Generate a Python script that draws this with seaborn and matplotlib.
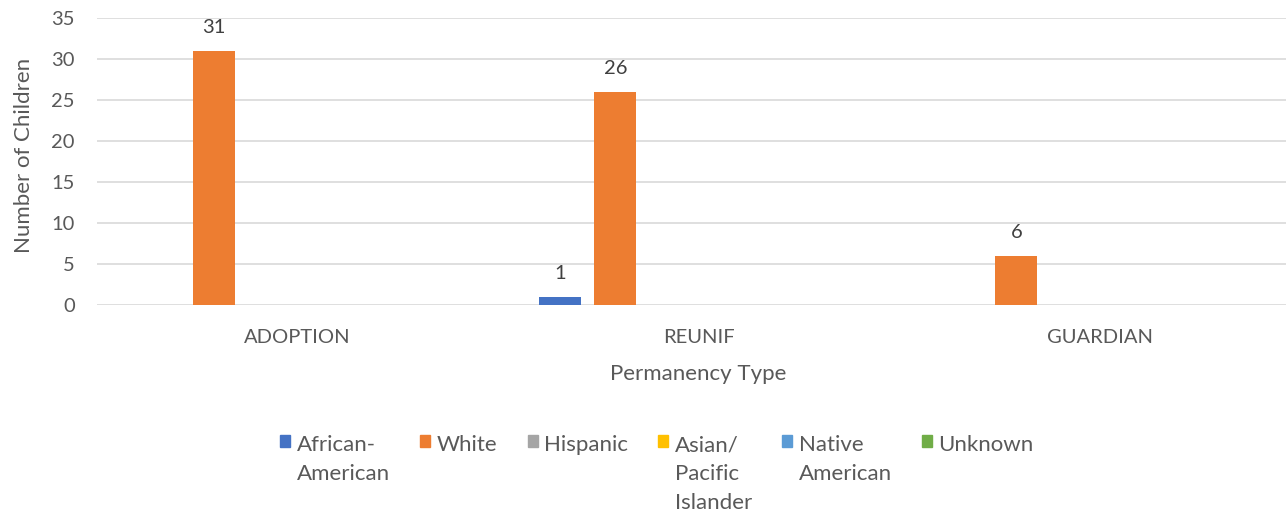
import pandas as pd
import matplotlib.pyplot as plt
import seaborn as sns

# dados
categorias = ["ADOPTION", "REUNIF", "GUARDIAN"]
grupos = ["African-American", "White", "Hispanic", "Asian/Pacific Islander", "Native American", "Unknown"]
rotulos_legenda = ["African-\nAmerican", "White", "Hispanic", "Asian/\nPacific\nIslander", "Native\nAmerican", "Unknown"]
african_american = [0, 1, 0]
white = [31, 26, 6]
hispanic = [0, 0, 0]
asian_pacific = [0, 0, 0]
native_american = [0, 0, 0]
unknown = [0, 0, 0]
cores = ["#4472C4", "#ED7D31", "#A5A5A5", "#FFC000", "#5B9BD5", "#70AD47"]

valores = [african_american, white, hispanic, asian_pacific, native_american, unknown]
linhas = []
for g, vals in zip(grupos, valores):
    for c, v in zip(categorias, vals):
        linhas.append({"Permanency Type": c, "Grupo": g, "Number of Children": v})
df = pd.DataFrame(linhas)

sns.set_theme(style="white")
plt.rcParams["font.family"] = ["Lato", "DejaVu Sans"]

fig = plt.figure(figsize=(12.86, 5.12), dpi=100)
ax = fig.add_axes([97 / 1286, 1 - 305 / 512, 1203 / 1286, 287 / 512])

sns.barplot(data=df, x="Permanency Type", y="Number of Children", hue="Grupo",
            hue_order=grupos, order=categorias, palette=cores, width=0.83,
            gap=0.24, linewidth=0, saturation=1, ax=ax, legend=False)

for cont in ax.containers:
    labs = [f"{b.get_height():g}" if b.get_height() > 0 else "" for b in cont]
    ax.bar_label(cont, labels=labs, padding=11, fontsize=14.5, color="#404040")

ax.set_ylim(0, 35)
ax.set_xlim(-0.5, 2.5)
ax.set_yticks(range(0, 36, 5))
ax.yaxis.grid(True, color="#D9D9D9", linewidth=1.2)
ax.set_axisbelow(True)
for s in ax.spines.values():
    s.set_visible(False)
ax.tick_params(axis="both", length=0, labelsize=14.5, labelcolor="#595959")
ax.tick_params(axis="y", pad=16)
ax.tick_params(axis="x", pad=17)
ax.set_xlabel("Permanency Type", fontsize=16, color="#595959", labelpad=13)
ax.set_ylabel("Number of Children", fontsize=16, color="#595959")
ax.yaxis.set_label_coords(-0.052, 0.52)

handles = [plt.Rectangle((0, 0), 1, 1, color=c) for c in cores]
leg = fig.legend(handles, rotulos_legenda, loc="upper center", ncol=6,
                 bbox_to_anchor=(0.511, 1 - 435 / 512), frameon=False,
                 fontsize=16, handlelength=0.45, handleheight=0.45,
                 handletextpad=0.3, columnspacing=1.35, labelcolor="#595959",
                 borderaxespad=0, borderpad=0)
for t in leg.get_texts():
    t.set_linespacing(1.55)
# alinhar os quadrados com a primeira linha do texto
leg._legend_handle_box.align = "top"
for col in leg._legend_handle_box.get_children():
    col.align = "top"
    for item in col.get_children():
        item.align = "top"

fig.savefig("out.png", dpi=100)
